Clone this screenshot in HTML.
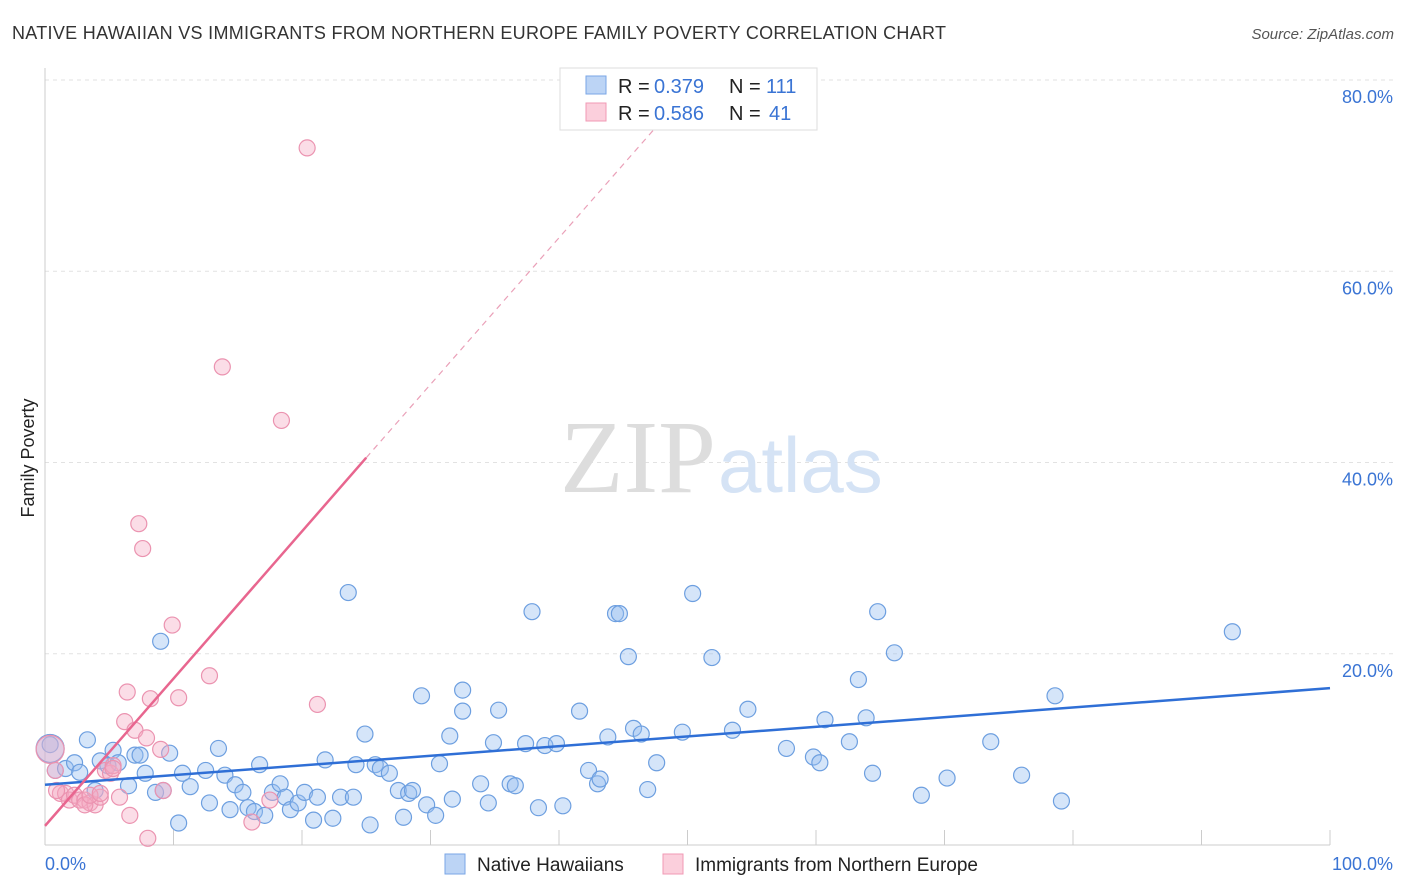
<!DOCTYPE html>
<html><head><meta charset="utf-8"><style>
body{margin:0;background:#fff;font-family:"Liberation Sans",sans-serif;}
svg{display:block}
</style></head><body>
<svg id="chart" width="1406" height="892">
<text x="12" y="39" font-size="18" fill="#333" textLength="934">NATIVE HAWAIIAN VS IMMIGRANTS FROM NORTHERN EUROPE FAMILY POVERTY CORRELATION CHART</text>
<text x="1394" y="39" font-size="15" fill="#555" font-style="italic" text-anchor="end">Source: ZipAtlas.com</text>
<text x="34" y="458" font-size="18" fill="#222" transform="rotate(-90 34 458)" text-anchor="middle">Family Poverty</text>
<g id="grid"></g>
<text x="716" y="492" font-size="104" fill="#ddd" text-anchor="end" font-family="Liberation Serif,serif">ZIP</text>
<text x="718" y="492" font-size="78" fill="#d5e3f5">atlas</text>
<g id="marks"></g>
<g>
<rect x="560" y="68" width="257" height="62" fill="#fff" stroke="#ddd"/>
<rect x="586" y="76" width="20" height="18" fill="#bcd4f5" stroke="#7aa6e6"/>
<rect x="586" y="103" width="20" height="18" fill="#fbcfdc" stroke="#f09ab4"/>
<text x="618" y="93" font-size="20" fill="#222">R = </text><text x="654" y="93" font-size="20" fill="#3a74d4">0.379</text>
<text x="729" y="93" font-size="20" fill="#222">N = </text><text x="766" y="93" font-size="20" fill="#3a74d4">111</text>
<text x="618" y="120" font-size="20" fill="#222">R = </text><text x="654" y="120" font-size="20" fill="#3a74d4">0.586</text>
<text x="729" y="120" font-size="20" fill="#222">N = </text><text x="769" y="120" font-size="20" fill="#3a74d4">41</text>
</g>
<g>
<rect x="445" y="854" width="20" height="20" fill="#bcd4f5" stroke="#7aa6e6"/>
<text x="477" y="871" font-size="19" fill="#222">Native Hawaiians</text>
<rect x="663" y="854" width="20" height="20" fill="#fbcfdc" stroke="#f09ab4"/>
<text x="695" y="871" font-size="19" fill="#222">Immigrants from Northern Europe</text>
</g>
</svg>
<script>
const yTicks=[20,40,60,80];
const xTickLabels=["0.0%","100.0%"];
const blueX=[0.4,0.8,1.6,2.3,2.7,3.3,3.9,4.3,4.9,5.3,5.7,6.5,7,7.4,7.8,8.6,9,9.2,9.7,10.4,10.7,11.3,12.5,12.8,13.5,14,14.4,14.8,15.4,15.8,16.3,16.7,17.1,17.7,18.3,18.7,19.1,19.7,20.2,20.9,21.2,21.8,22.4,23,23.6,24,24.2,24.9,25.3,25.7,26.1,26.8,27.5,27.9,28.3,28.6,29.3,29.7,30.4,30.7,31.5,31.7,32.5,32.5,33.9,34.5,34.9,35.3,36.2,36.6,37.4,37.9,38.4,38.9,39.8,40.3,41.6,42.3,43,43.2,43.8,44.4,44.7,45.4,45.8,46.4,46.9,47.6,49.6,50.4,51.9,53.5,54.7,57.7,59.8,60.3,60.7,62.6,63.3,63.9,64.4,64.8,66.1,68.2,70.2,73.6,76,78.6,79.1,92.4,0.4];
const blueY=[10.5,7.8,8,8.6,7.6,11,5.7,8.8,8.3,9.9,8.6,6.2,9.4,9.4,7.5,5.5,21.3,5.7,9.6,2.3,7.5,6.1,7.8,4.4,10.1,7.3,3.7,6.3,5.5,3.9,3.5,8.4,3.1,5.5,6.4,5,3.7,4.4,5.5,2.6,5,8.9,2.8,5,26.4,5,8.4,11.6,2.1,8.4,8,7.5,5.7,2.9,5.4,5.7,15.6,4.2,3.1,8.5,11.4,4.8,16.2,14,6.4,4.4,10.7,14.1,6.4,6.2,10.6,24.4,3.9,10.4,10.6,4.1,14,7.8,6.4,6.9,11.3,24.2,24.2,19.7,12.2,11.6,5.8,8.6,11.8,26.3,19.6,12,14.2,10.1,9.2,8.6,13.1,10.8,17.3,13.3,7.5,24.4,20.1,5.2,7,10.8,7.3,15.6,4.6,22.3,10.1];
const pinkX=[0.4,0.8,1.2,1.6,1.9,2.3,2.7,3.1,3.5,3.9,4.3,4.7,5.1,5.3,5.8,6.2,6.4,6.6,7,7.3,7.6,7.9,8.2,9,9.2,9.9,10.4,12.8,13.8,16.1,17.5,18.4,20.4,21.2,8,3.1,3.5,4.3,0.9,5.3];
const pinkY=[10,7.8,5.4,5.4,4.7,5.2,4.7,4.7,4.4,4.2,5,7.8,7.5,8.3,5,12.9,16,3.1,12,33.6,31,11.2,15.3,10,5.7,23,15.4,17.7,50,2.4,4.7,44.4,72.9,14.7,0.7,4.2,5.2,5.4,5.7,8];
const plot={l:45,r:1330,t:80,b:845,ymax:80};
const sx=v=>plot.l+v/100*(plot.r-plot.l);
const sy=v=>plot.b-v/plot.ymax*(plot.b-plot.t);
const NS="http://www.w3.org/2000/svg";
function mk(tag,attrs,parent){const e=document.createElementNS(NS,tag);for(const k in attrs)e.setAttribute(k,attrs[k]);parent.appendChild(e);return e;}
const grid=document.getElementById('grid'),marks=document.getElementById('marks');
yTicks.forEach(t=>{
 const l=mk('line',{x1:plot.l,x2:1395,y1:sy(t),y2:sy(t),stroke:'#e2e2e2','stroke-dasharray':'4,4'},grid);
 
 
 const tx=mk('text',{x:1393,y:sy(t)+23,'font-size':18,fill:'#3a74d4','text-anchor':'end'},grid);
 tx.textContent=t.toFixed(1)+'%';
 
 
});
const ax=mk('line',{x1:plot.l,x2:plot.l,y1:68,y2:plot.b,stroke:'#ccc'},grid);


const bx=mk('line',{x1:plot.l,x2:plot.r,y1:plot.b,y2:plot.b,stroke:'#ccc'},grid);


for(let i=1;i<=10;i++){const t=mk('line',{x1:sx(i*10),x2:sx(i*10),y1:830,y2:plot.b,stroke:'#ccc'},grid);
 
 }
[[0,'start',xTickLabels[0]],[100,'end',xTickLabels[1]]].forEach(([v,a,s],i)=>{
 const t=mk('text',{x:i?1393:45,y:870,'font-size':18,fill:'#3a74d4','text-anchor':a},grid);t.textContent=s;
 
 });
blueX.forEach((x,i)=>{const c=mk('circle',{cx:sx(x),cy:sy(blueY[i]),r:i==blueX.length-1?14:8,fill:'rgba(150,190,240,0.4)',stroke:'#6d9fe0','stroke-width':1.2},marks);
 
 });
pinkX.forEach((x,i)=>{const c=mk('circle',{cx:sx(x),cy:sy(pinkY[i]),r:i==0?14:8,fill:'rgba(245,170,195,0.4)',stroke:'#eb93b0','stroke-width':1.2},marks);
 
 });
const bt=mk('line',{x1:sx(0),y1:sy(6.3),x2:sx(100),y2:sy(16.4),stroke:'#2f6fd6','stroke-width':2.5},marks);


const pt=mk('line',{x1:sx(0),y1:sy(2),x2:sx(25),y2:sy(40.5),stroke:'#e8668f','stroke-width':2.5},marks);


const pd=mk('line',{x1:sx(25),y1:sy(40.5),x2:sx(47.5),y2:sy(75),stroke:'#eaa0b8','stroke-width':1.2,'stroke-dasharray':'6,5'},marks);


</script>
</body></html>
